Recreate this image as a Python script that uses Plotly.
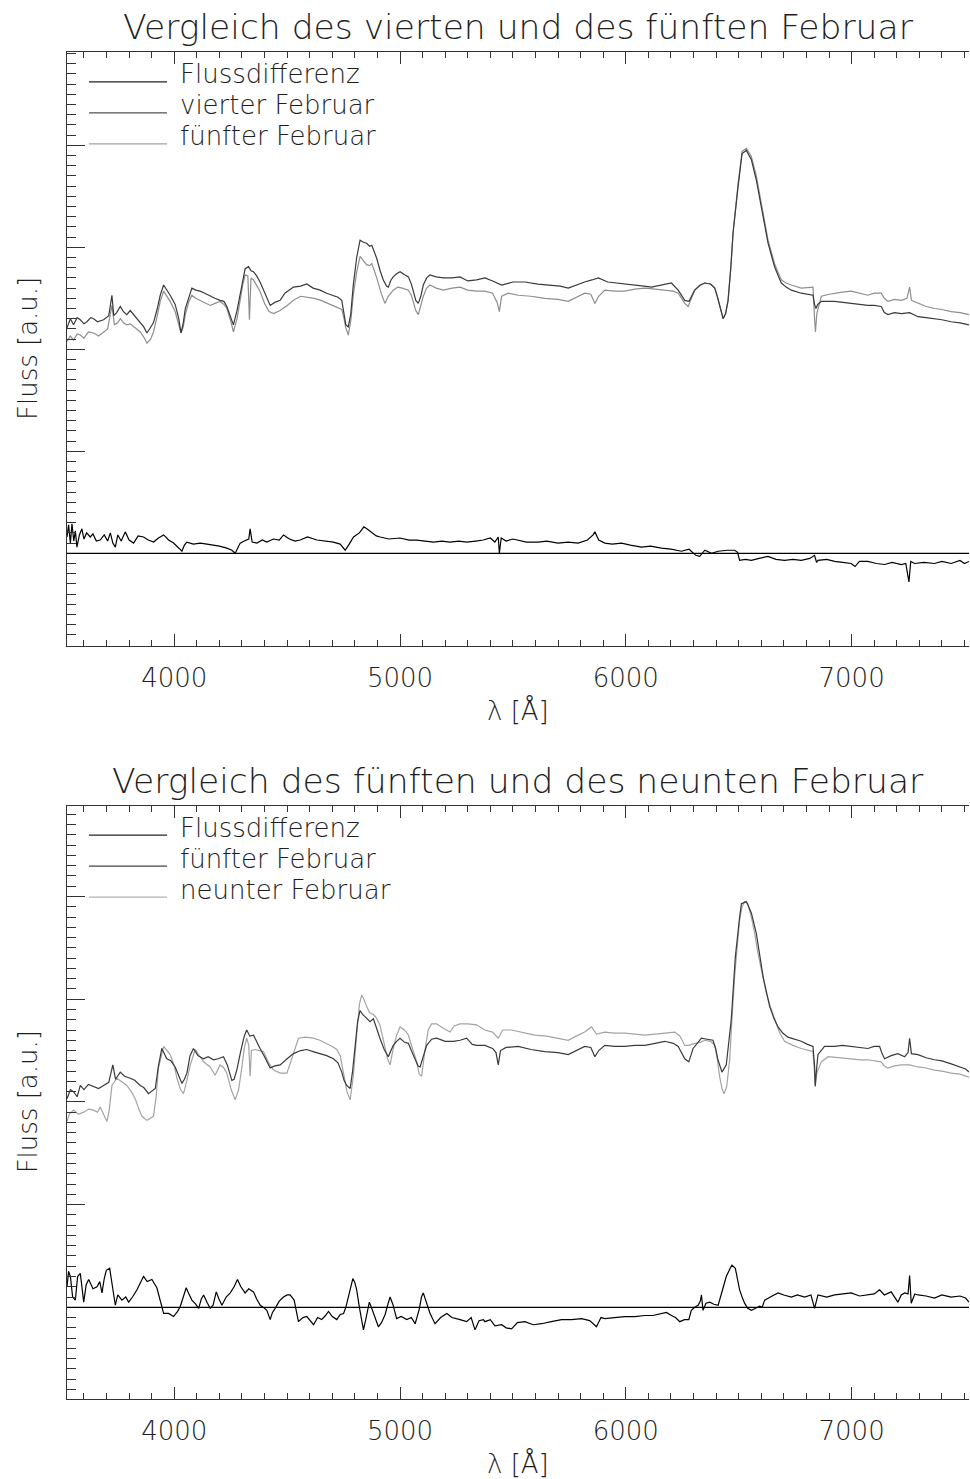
import plotly.graph_objects as go

# ---------------- data ----------------
# top panel: 4th February (dark)
wl_a4 = [3525,3540,3554,3570,3584,3600,3613,3630,3643,3660,3687,3710,3724,3732,3745,3761,3775,3790,3805,3820,3835,3849,3865,3879,3895,3908,3925,3938,3953,3968,3982,4004,4020,4030,4040,4049,4065,4078,4095,4115,4135,4159,4180,4203,4220,4233,4250,4262,4278,4292,4305,4314,4329,4340,4351,4365,4380,4395,4410,4425,4445,4469,4490,4510,4528,4560,4587,4615,4646,4675,4705,4725,4742,4752,4760,4771,4782,4793,4808,4823,4838,4852,4865,4875,4897,4912,4926,4940,4948,4960,4970,4985,5000,5020,5037,5050,5059,5070,5081,5092,5103,5118,5133,5160,5192,5230,5266,5300,5339,5376,5410,5450,5500,5553,5610,5671,5710,5745,5780,5818,5850,5878,5920,5966,6000,6040,6080,6114,6160,6202,6232,6261,6280,6305,6330,6350,6375,6394,6405,6416,6431,6442,6453,6465,6475,6497,6515,6534,6556,6578,6600,6615,6630,6645,6659,6675,6689,6710,6733,6777,6810,6829,6836,6842,6850,6866,6925,6960,6998,7040,7072,7100,7131,7145,7161,7190,7220,7257,7294,7330,7367,7400,7441,7480,7520]
fx_a4 = [2.21,2.30,2.24,2.31,2.29,2.25,2.27,2.31,2.30,2.27,2.29,2.33,2.53,2.33,2.36,2.42,2.37,2.34,2.38,2.34,2.31,2.27,2.22,2.16,2.22,2.26,2.40,2.53,2.63,2.58,2.53,2.44,2.30,2.16,2.26,2.40,2.52,2.60,2.58,2.57,2.55,2.52,2.50,2.48,2.47,2.42,2.32,2.24,2.38,2.53,2.70,2.79,2.81,2.77,2.76,2.72,2.66,2.58,2.50,2.43,2.46,2.48,2.55,2.58,2.61,2.62,2.64,2.60,2.58,2.55,2.53,2.51,2.48,2.35,2.24,2.22,2.35,2.63,2.90,3.07,3.05,3.04,3.01,3.02,2.89,2.77,2.68,2.62,2.61,2.68,2.71,2.74,2.76,2.73,2.71,2.64,2.57,2.48,2.45,2.52,2.63,2.70,2.73,2.71,2.70,2.70,2.71,2.67,2.68,2.70,2.67,2.63,2.66,2.66,2.64,2.63,2.62,2.60,2.63,2.66,2.68,2.70,2.66,2.65,2.64,2.63,2.62,2.61,2.63,2.65,2.58,2.48,2.47,2.58,2.63,2.65,2.64,2.60,2.52,2.42,2.30,2.35,2.48,2.80,3.14,3.59,3.92,3.95,3.86,3.66,3.40,3.22,3.04,2.92,2.81,2.72,2.65,2.61,2.58,2.55,2.54,2.53,2.44,2.40,2.44,2.47,2.47,2.46,2.45,2.44,2.43,2.43,2.42,2.36,2.34,2.36,2.35,2.36,2.32,2.31,2.30,2.29,2.27,2.26,2.24]

# top panel: 5th February (light)
wl_a5 = [3525,3540,3554,3570,3584,3600,3620,3643,3665,3687,3705,3724,3735,3750,3761,3775,3790,3805,3830,3850,3865,3879,3895,3908,3925,3938,3953,3968,3982,4004,4020,4030,4040,4049,4065,4078,4095,4115,4135,4159,4180,4203,4220,4233,4250,4262,4278,4292,4305,4314,4326,4333,4340,4351,4365,4380,4400,4420,4440,4469,4500,4528,4560,4587,4620,4650,4680,4710,4742,4752,4760,4771,4782,4793,4808,4823,4838,4852,4865,4875,4897,4915,4933,4948,4970,4990,5010,5037,5050,5059,5070,5081,5092,5103,5118,5133,5160,5192,5230,5266,5300,5339,5376,5410,5430,5440,5450,5480,5523,5580,5641,5700,5745,5780,5818,5845,5863,5880,5907,5950,5995,6040,6084,6130,6172,6210,6232,6261,6276,6290,6305,6330,6350,6375,6394,6405,6416,6431,6442,6453,6465,6475,6497,6515,6534,6556,6578,6600,6615,6630,6645,6659,6675,6689,6710,6733,6777,6810,6829,6836,6840,6846,6866,6900,6925,6960,6998,7040,7072,7100,7131,7145,7161,7190,7220,7245,7257,7265,7294,7330,7367,7400,7441,7480,7520]
fx_a5 = [2.08,2.13,2.09,2.15,2.14,2.11,2.17,2.16,2.13,2.17,2.20,2.43,2.24,2.26,2.30,2.26,2.24,2.25,2.21,2.17,2.12,2.06,2.10,2.17,2.33,2.47,2.57,2.52,2.47,2.37,2.25,2.16,2.22,2.34,2.47,2.53,2.50,2.48,2.46,2.43,2.45,2.47,2.44,2.40,2.28,2.17,2.30,2.50,2.65,2.73,2.72,2.29,2.70,2.68,2.63,2.57,2.45,2.37,2.35,2.38,2.43,2.48,2.52,2.51,2.50,2.48,2.45,2.42,2.39,2.30,2.21,2.14,2.28,2.53,2.76,2.91,2.87,2.83,2.82,2.84,2.70,2.56,2.45,2.52,2.58,2.61,2.60,2.58,2.53,2.47,2.38,2.34,2.42,2.52,2.60,2.63,2.60,2.58,2.60,2.61,2.58,2.57,2.57,2.55,2.46,2.37,2.52,2.55,2.53,2.52,2.50,2.49,2.47,2.51,2.55,2.54,2.45,2.52,2.58,2.57,2.57,2.59,2.60,2.59,2.58,2.57,2.55,2.45,2.42,2.50,2.58,2.63,2.65,2.64,2.60,2.52,2.42,2.30,2.35,2.48,2.80,3.14,3.62,3.94,3.97,3.89,3.70,3.44,3.26,3.07,2.95,2.84,2.75,2.68,2.65,2.63,2.60,2.61,2.61,2.30,2.17,2.35,2.52,2.54,2.55,2.56,2.57,2.55,2.53,2.55,2.55,2.50,2.47,2.49,2.48,2.50,2.61,2.48,2.45,2.42,2.40,2.39,2.37,2.36,2.34]

# top panel: flux difference
wl_ad = [3525,3532,3540,3547,3555,3562,3569,3580,3591,3600,3612,3628,3640,3655,3672,3690,3705,3717,3728,3739,3750,3765,3783,3800,3820,3840,3864,3885,3909,3930,3953,3975,3997,4015,4034,4045,4056,4085,4115,4145,4174,4200,4233,4255,4270,4282,4292,4310,4330,4336,4345,4366,4390,4410,4440,4465,4484,4510,4535,4558,4590,4632,4670,4705,4735,4757,4775,4794,4820,4840,4853,4875,4895,4912,4950,5000,5040,5074,5110,5148,5185,5221,5260,5295,5335,5369,5400,5420,5435,5440,5448,5470,5500,5523,5560,5612,5650,5700,5745,5789,5830,5855,5863,5880,5907,5940,5981,6020,6069,6110,6158,6200,6246,6280,6310,6327,6350,6380,6409,6450,6482,6495,6504,6530,6556,6590,6630,6665,6703,6740,6777,6815,6836,6845,6851,6890,6925,6960,6998,7015,7035,7072,7110,7146,7180,7220,7240,7254,7262,7279,7320,7367,7400,7441,7480,7500,7520]
fx_ad = [0.16,0.28,0.10,0.29,0.12,0.22,0.06,0.18,0.24,0.14,0.20,0.16,0.19,0.12,0.13,0.18,0.12,0.20,0.10,0.06,0.18,0.12,0.21,0.13,0.10,0.17,0.16,0.13,0.11,0.15,0.18,0.13,0.10,0.06,0.02,0.08,0.11,0.09,0.10,0.09,0.08,0.07,0.05,0.03,0.00,0.06,0.10,0.12,0.14,0.24,0.11,0.10,0.13,0.11,0.14,0.13,0.18,0.14,0.12,0.13,0.16,0.13,0.12,0.11,0.09,0.03,0.09,0.16,0.20,0.26,0.24,0.20,0.17,0.16,0.14,0.15,0.13,0.13,0.12,0.11,0.12,0.11,0.12,0.11,0.12,0.13,0.15,0.11,0.16,0.00,0.15,0.12,0.14,0.13,0.11,0.11,0.12,0.10,0.11,0.10,0.13,0.18,0.21,0.13,0.10,0.09,0.10,0.08,0.06,0.07,0.05,0.04,0.02,0.04,-0.02,-0.03,0.03,0.00,0.02,0.03,0.03,0.01,-0.07,-0.06,-0.07,-0.05,-0.03,-0.06,-0.07,-0.06,-0.07,-0.05,-0.02,-0.09,-0.07,-0.06,-0.08,-0.09,-0.10,-0.13,-0.08,-0.08,-0.10,-0.11,-0.09,-0.11,-0.10,-0.28,-0.08,-0.10,-0.09,-0.10,-0.08,-0.10,-0.07,-0.10,-0.08]

# bottom panel: 5th February (dark)
wl_b5 = [3525,3540,3554,3570,3584,3600,3620,3643,3665,3687,3710,3728,3740,3761,3780,3805,3825,3849,3865,3886,3900,3916,3930,3945,3967,3985,4004,4020,4034,4045,4056,4070,4085,4105,4130,4150,4174,4195,4218,4235,4255,4265,4277,4295,4310,4321,4335,4351,4365,4380,4400,4425,4445,4469,4500,4528,4560,4587,4615,4646,4675,4705,4725,4742,4752,4764,4779,4790,4801,4812,4823,4835,4845,4860,4867,4882,4895,4911,4930,4948,4960,4970,4985,5000,5020,5037,5050,5066,5080,5089,5100,5118,5140,5162,5200,5236,5266,5295,5320,5339,5376,5410,5425,5435,5445,5470,5523,5580,5641,5700,5745,5780,5818,5845,5863,5880,5907,5950,5995,6040,6084,6130,6172,6210,6232,6261,6279,6298,6320,6335,6360,6386,6398,6408,6426,6445,6467,6485,6504,6512,6534,6556,6578,6608,6637,6655,6674,6695,6718,6750,6777,6805,6829,6836,6839,6844,6851,6880,6925,6960,6998,7040,7072,7100,7124,7135,7146,7175,7205,7235,7250,7257,7265,7294,7330,7367,7400,7441,7480,7505,7520]
fx_b5 = [2.03,2.12,2.10,2.05,2.16,2.12,2.17,2.15,2.13,2.16,2.19,2.36,2.22,2.29,2.25,2.23,2.21,2.16,2.14,2.08,2.10,2.13,2.35,2.52,2.42,2.40,2.34,2.26,2.18,2.22,2.28,2.45,2.52,2.45,2.42,2.44,2.41,2.42,2.44,2.36,2.21,2.22,2.31,2.50,2.64,2.70,2.64,2.65,2.58,2.52,2.44,2.33,2.35,2.36,2.42,2.47,2.50,2.51,2.49,2.47,2.45,2.42,2.38,2.29,2.21,2.16,2.13,2.30,2.55,2.78,2.89,2.85,2.83,2.80,2.78,2.81,2.72,2.62,2.51,2.44,2.50,2.55,2.59,2.62,2.58,2.57,2.50,2.42,2.35,2.34,2.43,2.55,2.61,2.62,2.59,2.59,2.60,2.62,2.56,2.55,2.55,2.52,2.48,2.36,2.50,2.53,2.54,2.51,2.49,2.48,2.46,2.50,2.54,2.53,2.44,2.50,2.55,2.54,2.54,2.55,2.55,2.57,2.59,2.57,2.54,2.42,2.39,2.52,2.58,2.62,2.61,2.60,2.52,2.41,2.29,2.36,2.80,3.41,3.80,3.93,3.95,3.84,3.64,3.22,2.93,2.82,2.73,2.67,2.63,2.61,2.59,2.56,2.54,2.35,2.15,2.30,2.46,2.54,2.54,2.55,2.54,2.53,2.52,2.54,2.54,2.47,2.42,2.45,2.47,2.44,2.48,2.62,2.47,2.46,2.43,2.41,2.40,2.37,2.34,2.32,2.29]

# bottom panel: 9th February (light)
wl_b9 = [3525,3535,3554,3575,3599,3620,3643,3660,3672,3688,3702,3712,3724,3746,3765,3790,3810,3827,3845,3857,3879,3895,3908,3920,3930,3953,3982,4000,4012,4028,4041,4055,4071,4093,4110,4130,4159,4181,4203,4220,4233,4252,4270,4285,4299,4310,4321,4330,4336,4342,4358,4375,4395,4418,4440,4470,4499,4525,4550,4580,4616,4645,4675,4700,4720,4735,4749,4765,4779,4793,4808,4820,4830,4840,4852,4865,4882,4895,4911,4930,4945,4956,4970,4985,5000,5020,5037,5055,5074,5085,5096,5110,5125,5140,5162,5190,5221,5240,5266,5300,5339,5376,5410,5435,5455,5494,5540,5597,5650,5700,5745,5780,5818,5848,5870,5907,5950,5995,6040,6084,6130,6172,6217,6240,6261,6280,6305,6330,6350,6375,6394,6405,6416,6427,6435,6447,6460,6470,6482,6495,6504,6515,6526,6540,6556,6570,6585,6605,6622,6640,6659,6680,6703,6740,6777,6810,6829,6836,6839,6846,6866,6896,6940,6998,7040,7072,7110,7131,7145,7161,7190,7220,7257,7294,7330,7367,7400,7441,7480,7520]
fx_b9 = [1.81,1.88,1.92,1.88,1.90,1.93,1.92,1.90,1.95,1.88,1.81,1.92,2.16,2.23,2.20,2.16,2.10,2.03,1.92,1.86,1.82,1.84,1.86,2.05,2.33,2.54,2.46,2.35,2.23,2.12,2.08,2.20,2.36,2.51,2.45,2.39,2.34,2.26,2.36,2.33,2.28,2.12,2.02,2.12,2.33,2.52,2.62,2.55,2.25,2.50,2.51,2.50,2.49,2.38,2.31,2.28,2.28,2.45,2.62,2.63,2.62,2.60,2.57,2.54,2.51,2.45,2.29,2.10,2.02,2.25,2.65,2.95,3.04,3.00,2.93,2.87,2.85,2.82,2.75,2.58,2.42,2.36,2.52,2.65,2.73,2.70,2.65,2.52,2.39,2.27,2.25,2.50,2.70,2.76,2.76,2.72,2.68,2.74,2.76,2.76,2.75,2.70,2.68,2.62,2.70,2.70,2.68,2.65,2.64,2.62,2.60,2.64,2.68,2.73,2.66,2.68,2.67,2.67,2.66,2.65,2.66,2.67,2.68,2.64,2.55,2.55,2.57,2.58,2.60,2.59,2.55,2.42,2.24,2.12,2.08,2.15,2.41,2.80,3.22,3.55,3.77,3.90,3.95,3.93,3.80,3.65,3.45,3.24,3.06,2.93,2.80,2.68,2.59,2.55,2.52,2.50,2.49,2.28,2.16,2.28,2.39,2.44,2.43,2.42,2.41,2.41,2.40,2.39,2.35,2.33,2.35,2.36,2.36,2.34,2.33,2.31,2.30,2.28,2.27,2.24]

# bottom panel: flux difference
wl_bd = [3525,3532,3540,3550,3562,3572,3584,3592,3599,3610,3621,3640,3658,3670,3680,3690,3699,3714,3725,3739,3750,3768,3785,3798,3815,3835,3850,3864,3880,3901,3923,3940,3953,3975,3997,4015,4027,4040,4053,4065,4078,4095,4108,4120,4130,4145,4159,4172,4186,4198,4211,4230,4248,4265,4280,4295,4314,4330,4351,4365,4381,4400,4410,4425,4435,4447,4465,4484,4500,4513,4531,4550,4570,4587,4600,4617,4635,4653,4670,4683,4700,4720,4735,4750,4760,4771,4781,4791,4800,4808,4820,4830,4838,4850,4864,4873,4882,4893,4904,4918,4934,4945,4956,4968,4985,5005,5030,5050,5067,5085,5095,5103,5118,5133,5155,5180,5207,5230,5266,5295,5315,5332,5350,5369,5376,5400,5420,5450,5470,5494,5520,5553,5590,5627,5670,5715,5760,5804,5840,5870,5890,5907,5950,5995,6040,6084,6120,6158,6180,6202,6220,6239,6260,6279,6290,6305,6320,6330,6335,6342,6355,6372,6390,6409,6420,6431,6445,6460,6470,6485,6495,6504,6515,6526,6540,6556,6575,6593,6604,6615,6640,6674,6700,6733,6760,6792,6820,6836,6851,6890,6925,6960,6998,7035,7072,7100,7124,7145,7175,7205,7220,7235,7250,7257,7264,7280,7294,7330,7367,7400,7441,7480,7505,7520]
fx_bd = [0.20,0.35,0.30,0.10,0.07,0.30,0.33,0.15,0.05,0.22,0.27,0.18,0.20,0.25,0.14,0.28,0.36,0.38,0.20,0.02,0.12,0.07,0.10,0.05,0.10,0.17,0.24,0.30,0.25,0.27,0.19,0.05,-0.06,-0.06,-0.09,-0.04,0.01,0.10,0.19,0.13,0.07,0.03,-0.01,0.08,0.12,0.05,-0.01,0.02,0.15,0.08,0.02,0.10,0.14,0.20,0.27,0.20,0.14,0.18,0.15,0.08,0.02,-0.01,-0.03,-0.12,-0.05,-0.01,0.06,0.10,0.12,0.12,0.07,-0.14,-0.10,-0.09,-0.13,-0.17,-0.10,-0.12,-0.08,-0.04,-0.09,-0.12,-0.07,-0.06,0.00,0.09,0.18,0.28,0.24,0.17,0.00,-0.15,-0.22,-0.10,0.05,0.00,-0.06,-0.12,-0.19,-0.15,-0.07,0.02,0.10,0.03,-0.11,-0.09,-0.12,-0.10,-0.16,-0.02,0.10,0.14,0.03,-0.06,-0.16,-0.10,-0.06,-0.10,-0.12,-0.14,-0.10,-0.22,-0.13,-0.12,-0.14,-0.12,-0.18,-0.17,-0.20,-0.21,-0.15,-0.14,-0.17,-0.16,-0.14,-0.12,-0.12,-0.11,-0.13,-0.19,-0.10,-0.11,-0.10,-0.09,-0.09,-0.08,-0.08,-0.06,-0.05,-0.08,-0.10,-0.14,-0.12,-0.12,-0.03,0.00,0.02,0.06,0.12,-0.03,0.04,0.05,0.03,0.02,0.10,0.20,0.30,0.37,0.41,0.38,0.25,0.17,0.10,0.04,-0.01,-0.03,-0.01,0.01,0.00,0.07,0.10,0.14,0.12,0.10,0.12,0.10,0.12,-0.01,0.12,0.10,0.12,0.13,0.14,0.11,0.12,0.13,0.17,0.12,0.15,0.05,0.12,0.14,0.13,0.31,0.04,0.13,0.12,0.11,0.09,0.12,0.10,0.11,0.09,0.05]

titles = ["Vergleich des vierten und des fünften Februar",
          "Vergleich des fünften und des neunten Februar"]
legend_top = ["Flussdifferenz", "vierter Februar", "fünfter Februar"]
legend_bot = ["Flussdifferenz", "fünfter Februar", "neunter Februar"]
x_label = "λ [Å]"
y_label = "Fluss [a.u.]"
x_ticks = [4000, 5000, 6000, 7000]

# ---------------- styling ----------------
FONT = "DejaVu Sans"
FW = 200
TXT = "#1e1e1e"
C_DIFF = "#000000"
C_DARK = "#3a3a3a"
C_LIGHT = "#8e8e8e"
C_LIGHT2 = "#a3a3a3"
AXC = "#333333"

W, H = 970, 1479
L, R = 67, 969
panels = [
    dict(top=52.3, bot=645.7, yr=[-0.906, 4.912]),
    dict(top=805.7, bot=1399.0, yr=[-0.893, 4.884]),
]

fig = go.Figure()

series = [
    [(wl_ad, fx_ad, C_DIFF), (wl_a4, fx_a4, C_DARK), (wl_a5, fx_a5, C_LIGHT)],
    [(wl_bd, fx_bd, C_DIFF), (wl_b5, fx_b5, C_DARK), (wl_b9, fx_b9, C_LIGHT2)],
]
legend_cols = [["#222222", "#555555", "#a0a0a0"], ["#222222", "#444444", "#b0b0b0"]]
legends = [legend_top, legend_bot]

xr = [3525, 7520]
for i, p in enumerate(panels):
    xa = "x" if i == 0 else "x2"
    ya = "y" if i == 0 else "y2"
    for wl, fx, col in series[i][::-1]:
        fig.add_trace(go.Scatter(x=wl, y=fx, mode="lines", xaxis=xa, yaxis=ya,
                                 line=dict(color=col, width=1.2), showlegend=False,
                                 hoverinfo="skip"))

annotations = []
shapes = []
layout = dict(width=W, height=H, margin=dict(l=L, r=W - R, t=0, b=0),
              paper_bgcolor="white", plot_bgcolor="white", showlegend=False)

for i, p in enumerate(panels):
    sfx = "" if i == 0 else "2"
    dom = [1 - p["bot"] / H, 1 - p["top"] / H]
    xname = "xaxis" + sfx
    yname = "yaxis" + sfx
    yrname = "yaxis" + str(3 + i)
    xa = "x" + sfx
    ya = "y" + sfx
    layout[xname] = dict(domain=[0, 1], anchor=ya, range=xr, tickvals=x_ticks,
                         ticks="inside", ticklen=12, tickcolor=AXC, tickwidth=1,
                         minor=dict(dtick=100, tick0=0, ticks="inside", ticklen=6,
                                    tickcolor=AXC, tickwidth=1),
                         showline=True, linecolor=AXC, linewidth=1, mirror="ticks",
                         showgrid=False, zeroline=False,
                         tickfont=dict(family=FONT, size=26, color=TXT, weight=FW),
                         ticklabelstandoff=9)
    layout[yname] = dict(domain=dom, anchor=xa, range=p["yr"], dtick=1, tick0=0,
                         ticks="inside", ticklen=18, tickcolor=AXC, tickwidth=1,
                         minor=dict(dtick=0.1, tick0=0, ticks="inside", ticklen=9,
                                    tickcolor=AXC, tickwidth=1),
                         showline=True, linecolor=AXC, linewidth=1,
                         showticklabels=False, showgrid=False, zeroline=False)
    layout[yrname] = dict(overlaying=ya, side="right", anchor=xa, range=p["yr"],
                          dtick=1, tick0=0, ticks="inside", ticklen=10,
                          tickcolor=AXC, tickwidth=1,
                          minor=dict(dtick=0.1, tick0=0, ticks="inside", ticklen=3,
                                     tickcolor=AXC, tickwidth=1),
                          showline=True, linecolor=AXC, linewidth=1,
                          showticklabels=False, showgrid=False, zeroline=False)
    # zero line
    shapes.append(dict(type="line", xref=xa + " domain", yref=ya, x0=0, x1=1, y0=0, y1=0,
                       line=dict(color="#000000", width=1.2)))
    ph = p["bot"] - p["top"]
    # legend
    for k, (txt, lc) in enumerate(zip(legends[i], legend_cols[i])):
        ly = 1 - (29.5 + 31 * k) / ph
        ty = 1 - (22 + 31 * k) / ph
        shapes.append(dict(type="line", xref=xa + " domain", yref=ya + " domain",
                           x0=(89 - L) / (R - L), x1=(167 - L) / (R - L), y0=ly, y1=ly,
                           line=dict(color=lc, width=1.3)))
        annotations.append(dict(text=txt, xref=xa + " domain", yref=ya + " domain",
                                x=(178 - L) / (R - L), y=ty, xanchor="left", yanchor="middle",
                                showarrow=False,
                                font=dict(family=FONT, size=26, color=TXT, weight=FW)))
    # title
    annotations.append(dict(text=titles[i], xref="paper", yref="paper",
                            x=0.5, y=1 - (p["top"] - 25) / H, xanchor="center",
                            yanchor="middle", showarrow=False,
                            font=dict(family=FONT, size=34.5, color=TXT, weight=FW)))
    # x label
    annotations.append(dict(text=x_label, xref="paper", yref="paper",
                            x=0.5, y=1 - (p["bot"] + 64) / H, xanchor="center",
                            yanchor="middle", showarrow=False,
                            font=dict(family=FONT, size=26, color=TXT, weight=FW)))
    # y label
    annotations.append(dict(text=y_label, xref="paper", yref="paper",
                            x=(28 - L) / (R - L), y=1 - ((p["top"] + p["bot"]) / 2) / H,
                            xanchor="center", yanchor="middle", textangle=-90,
                            showarrow=False,
                            font=dict(family=FONT, size=26, color=TXT, weight=FW)))

layout["annotations"] = annotations
layout["shapes"] = shapes
fig.update_layout(**layout)
fig.write_html("out.html")
